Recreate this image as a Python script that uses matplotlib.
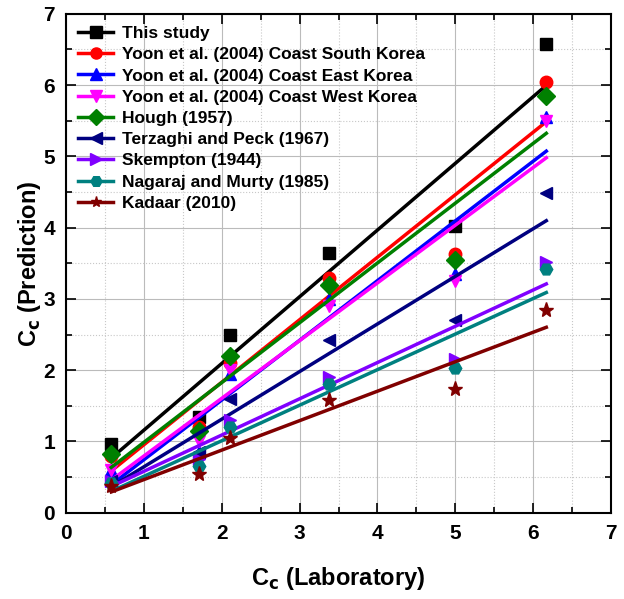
import numpy as np
import matplotlib
matplotlib.use('Agg')
import matplotlib.pyplot as plt
from matplotlib.ticker import MultipleLocator

plt.rcParams['font.family'] = ['Liberation Sans Narrow', 'Liberation Sans', 'DejaVu Sans']
plt.rcParams['font.weight'] = 'bold'

# laboratory Cc
x_lab = [0.58, 1.71, 2.1, 3.38, 5.0, 6.17]

labels = ['This study',
          'Yoon et al. (2004) Coast South Korea',
          'Yoon et al. (2004) Coast East Korea',
          'Yoon et al. (2004) Coast West Korea',
          'Hough (1957)',
          'Terzaghi and Peck (1967)',
          'Skempton (1944)',
          'Nagaraj and Murty (1985)',
          'Kadaar (2010)']

this_study = [0.97, 1.35, 2.5, 3.65, 4.02, 6.57]
yoon_south = [0.80, 1.20, 2.10, 3.30, 3.63, 6.04]
yoon_east = [0.60, 0.85, 1.95, 3.00, 3.35, 5.55]
yoon_west = [0.60, 1.00, 2.00, 2.90, 3.25, 5.50]
hough = [0.83, 1.15, 2.20, 3.20, 3.55, 5.85]
terzaghi = [0.45, 0.85, 1.60, 2.43, 2.70, 4.48]
skempton = [0.45, 0.75, 1.30, 1.90, 2.15, 3.52]
nagaraj = [0.42, 0.65, 1.20, 1.80, 2.03, 3.42]
kadaar = [0.38, 0.55, 1.05, 1.58, 1.73, 2.85]

series = [this_study, yoon_south, yoon_east, yoon_west, hough,
          terzaghi, skempton, nagaraj, kadaar]
colors = ['black', 'red', 'blue', '#ff00ff', 'green', '#000080',
          '#8000ff', '#008080', '#800000']
markers = ['s', 'o', '^', 'v', 'D', '<', '>', 'H', '*']

fig = plt.figure(figsize=(6.24, 5.99), dpi=100)
ax = fig.add_axes([0.106, 0.144, 0.873, 0.833])

xs = np.array(x_lab)
for ys, c, m, lab in zip(series, colors, markers, labels):
	ax.plot(xs, ys, linestyle='none', marker=m, color=c, markersize=9 if m != '*' else 11)
	k, b = np.polyfit(xs, ys, 1)
	ax.plot(xs[[0, -1]], k * xs[[0, -1]] + b, color=c, lw=2.5)
	# legend proxy
	ax.plot([], [], color=c, marker=m, lw=2.5, markersize=8, label=lab)

ax.set_xlim(0, 7)
ax.set_ylim(0, 7)
ax.xaxis.set_major_locator(MultipleLocator(1))
ax.yaxis.set_major_locator(MultipleLocator(1))
ax.xaxis.set_minor_locator(MultipleLocator(0.5))
ax.yaxis.set_minor_locator(MultipleLocator(0.5))
ax.grid(which='major', color='#bbbbbb', lw=0.8)
ax.grid(which='minor', color='#c8c8c8', lw=0.8, linestyle=':')
ax.set_axisbelow(True)
ax.tick_params(which='both', direction='in', top=True, right=True, width=1.2)
ax.tick_params(which='major', length=7, labelsize=15, pad=8)
ax.tick_params(which='minor', length=4)
for sp in ax.spines.values():
	sp.set_linewidth(1.5)

ax.set_xlabel('C$_\\mathbf{c}$ (Laboratory)', fontsize=17, fontweight='bold', labelpad=16)
ax.set_ylabel('C$_\\mathbf{c}$ (Prediction)', fontsize=17, fontweight='bold', labelpad=0)

ax.legend(loc='upper left', frameon=False, fontsize=12.5, handlelength=2.0,
	handletextpad=0.5, labelspacing=0.35, borderaxespad=0.3)

plt.savefig('out.png', dpi=100)
